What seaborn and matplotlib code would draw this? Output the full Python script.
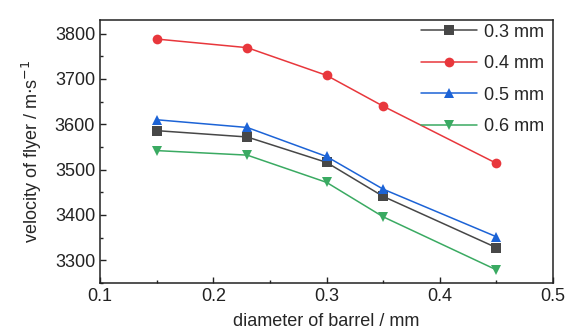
import matplotlib
matplotlib.use("Agg")
import matplotlib.pyplot as plt
import seaborn as sns
import pandas as pd
from matplotlib.ticker import MultipleLocator

diameter = [0.15, 0.23, 0.30, 0.35, 0.45]
v_03 = [3586, 3572, 3516, 3441, 3328]
v_04 = [3788, 3769, 3708, 3640, 3514]
v_05 = [3610, 3593, 3529, 3457, 3352]
v_06 = [3542, 3532, 3472, 3396, 3279]
labels = ["0.3 mm", "0.4 mm", "0.5 mm", "0.6 mm"]

df = pd.DataFrame({
    "d": diameter * 4,
    "v": v_03 + v_04 + v_05 + v_06,
    "thick": [l for l in labels for _ in diameter],
})

sns.set_style("ticks")
plt.rcParams["font.family"] = ["Liberation Sans", "DejaVu Sans"]

colors = ["#474747", "#e8373c", "#1c63d6", "#3aaa62"]
markers = ["s", "o", "^", "v"]

fig = plt.figure(figsize=(5.71, 3.36), dpi=100)
ax = fig.add_axes([100 / 571, 1 - 283 / 336, 453 / 571, 263 / 336])

sns.lineplot(data=df, x="d", y="v", hue="thick", style="thick",
             palette=colors, markers=markers, dashes=False,
             markersize=7, linewidth=1.1, markeredgewidth=0, ax=ax)

ax.set_xlim(0.1, 0.5)
ax.set_ylim(3250, 3830)
ax.xaxis.set_major_locator(MultipleLocator(0.1))
ax.xaxis.set_minor_locator(MultipleLocator(0.05))
ax.yaxis.set_major_locator(MultipleLocator(100))
ax.yaxis.set_minor_locator(MultipleLocator(50))
ax.tick_params(which="both", direction="in", labelsize=13, colors="#222222")
ax.tick_params(which="major", length=4, width=1)
ax.tick_params(which="minor", length=2.5, width=1)
for s in ax.spines.values():
    s.set_linewidth(1.1)
    s.set_color("#222222")

ax.set_xlabel("diameter of barrel / mm", fontsize=13, labelpad=6)
ax.set_ylabel("velocity of flyer / m$\\cdot$s$^{-1}$", fontsize=13, labelpad=8)

leg = ax.legend(frameon=False, fontsize=13, loc="upper right",
                handlelength=3.1, handletextpad=0.4, borderaxespad=0.1,
                labelspacing=0.8, bbox_to_anchor=(1.0, 1.02))

fig.savefig("out.png", dpi=100)
